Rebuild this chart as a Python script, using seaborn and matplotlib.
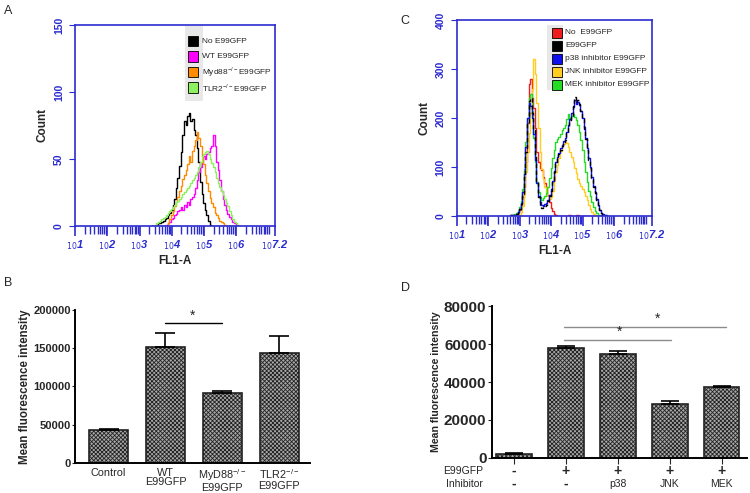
import numpy as np
import pandas as pd
import seaborn as sns
import matplotlib.pyplot as plt
from matplotlib.patches import Rectangle
from matplotlib.ticker import FixedLocator, NullFormatter

# ---- panel A : histogram counts on log10(FL1-A) bins ----
binsA = np.round(np.arange(3.40, 6.101, 0.05), 2)
noE99 = [0, 0, 0, 1, 2, 2, 3, 4, 5, 6, 8, 10, 12, 16, 20, 28, 36, 45, 55, 68,
         78, 75, 82, 84, 78, 80, 72, 68, 58, 48, 33, 24, 17, 12, 8, 4, 1, 0,
         0, 0, 0, 0, 0, 0, 0, 0, 0, 0, 0, 0, 0, 0, 0, 0, 0]
wtE99 = [0, 0, 0, 0, 0, 0, 0, 0, 0,
         1, 2, 3, 5, 6, 8, 9, 11, 12, 14, 12, 16, 14, 18, 16, 20, 22, 24, 28, 34,
         40, 44, 48, 52, 50, 54, 55, 58, 60, 68, 60, 48, 42, 34, 26, 20, 16, 12, 9, 7,
         5, 3, 2, 1, 0, 0]
myd88E99 = [0, 0, 0, 0, 0, 0, 0, 0, 0, 0,
            2, 5, 8, 11, 15, 18, 22, 26, 30, 35, 38, 42, 46, 52, 48, 56, 60, 64, 70,
            66, 60, 52, 46, 38, 32, 26, 21, 17, 14, 10, 8, 6, 4, 3, 2, 1, 0,
            0, 0, 0, 0, 0, 0, 0, 0]
tlr2E99 = [0, 0, 1, 2, 3, 4, 5, 6, 7, 8, 10, 11, 13, 14, 16, 18, 19, 20, 22, 24,
           25, 27, 28, 30, 32, 34, 36, 38, 40, 44, 48, 52, 54, 55, 56, 54, 50, 47,
           44, 40, 36, 32, 29, 26, 23, 20, 17, 15, 11, 8, 5, 3, 2, 1, 0]
labelsA = ['No E99GFP', 'WT E99GFP', r'Myd88$^{\mathregular{-/-}}$E99GFP',
           r'TLR2$^{\mathregular{-/-}}$E99GFP']
colorsA = ['black', '#ff00ff', '#ff8c00', '#8cf060']

# ---- panel C ----
binsC = np.round(np.arange(2.70, 5.801, 0.05), 2)
redNo = [0, 0, 0, 1, 3, 6, 12, 22, 38, 60, 110, 190, 270, 280, 240, 220, 180, 130,
         110, 98, 94, 80, 68, 60, 42, 28, 16, 10, 5, 2,
         0, 0, 0, 0, 0, 0, 0, 3, 2, 0, 0, 0, 3, 2, 0, 0, 0, 0, 0, 0, 0, 0, 0, 0,
         0, 0, 0, 0, 0, 0, 0, 0, 0]
blackE99 = [1, 1, 2, 3, 5, 8, 14, 24, 45, 80, 130, 190, 235, 240, 210, 175, 120, 70,
            38, 22, 16, 18, 20, 22, 30, 40, 52, 70, 90, 108, 118, 126, 135, 142, 150,
            156, 170, 182, 195, 205, 225, 242, 232, 236, 228, 215, 198, 178, 158, 135,
            115, 98, 78, 60, 46, 32, 20, 12, 6, 3, 1, 0, 0]
p38E99 = [1, 2, 2, 3, 5, 9, 15, 26, 48, 85, 140, 200, 230, 225, 200, 168, 115, 68,
          40, 28, 22, 20, 24, 26, 32, 42, 55, 72, 92, 110, 120, 128, 138, 145, 152,
          160, 172, 185, 198, 210, 222, 236, 228, 232, 226, 214, 200, 182, 160, 138,
          118, 100, 80, 62, 48, 34, 22, 13, 7, 4, 2, 1, 0]
jnkE99 = [0, 0, 0, 0, 0, 1, 3, 8, 20, 45, 90, 130, 170, 210, 260, 320, 290, 230,
          180, 130, 95, 75, 60, 48, 40, 34, 38, 52, 72, 90, 105, 118, 132, 140, 146,
          150, 148, 140, 130, 120, 110, 98, 88, 76, 68, 62, 55, 48, 40, 32, 22, 14,
          8, 4, 1, 0, 0, 0, 0, 0, 0, 0, 0]
mekE99 = [2, 2, 3, 4, 6, 10, 18, 30, 55, 95, 150, 200, 240, 248, 215, 160, 110, 70,
          48, 38, 33, 36, 40, 46, 60, 78, 98, 118, 135, 150, 158, 162, 168, 175, 180,
          186, 198, 208, 200, 205, 208, 202, 195, 185, 172, 155, 135, 110, 90, 70,
          52, 40, 28, 18, 11, 6, 3, 1, 0, 0, 0, 0, 0]
labelsC = ['No  E99GFP', 'E99GFP', 'p38 inhibitor E99GFP', 'JNK inhibitor E99GFP',
           'MEK inhibitor E99GFP']
colorsC = ['#ee1c1c', 'black', '#1010ee', '#ffcc22', '#22dd22']

# ---- panel B ----
groupsB = ['Control', 'WT\nE99GFP', 'MyD88$^{\\mathregular{-/-}}$\nE99GFP',
           'TLR2$^{\\mathregular{-/-}}$\nE99GFP']
mfiB = [43000, 152000, 92000, 143500]
semB = [2000, 18500, 2500, 22800]

# ---- panel D ----
groupsD = ['g1', 'g2', 'g3', 'g4', 'g5']
mfiD = [2300, 57800, 54600, 28500, 37400]
semD = [300, 900, 1700, 1500, 500]
e99row = ['-', '+', '+', '+', '+']
inhibRow = ['-', '-', 'p38', 'JNK', 'MEK']

sns.set_style("white")
plt.rcParams['font.family'] = ['Liberation Sans', 'DejaVu Sans']
plt.rcParams['hatch.linewidth'] = 0.6

blue = '#2b2bd0'
fig = plt.figure(figsize=(7.5, 4.93), dpi=100)

axA = fig.add_axes([0.1, 0.5416, 0.2667, 0.4077])
axC = fig.add_axes([0.6093, 0.5619, 0.26, 0.3976])
axB = fig.add_axes([0.1, 0.0609, 0.3133, 0.3103])
axD = fig.add_axes([0.656, 0.071, 0.34, 0.3083])


def flow_axes(ax, ymax, ystep):
    ax.set_xscale('log')
    ax.set_xlim(10 ** 1, 10 ** 7.2)
    ax.set_ylim(0, ymax)
    for s in ax.spines.values():
        s.set_color(blue)
        s.set_linewidth(1.2)
    majors = [10.0 ** k for k in range(1, 7)] + [10 ** 7.2]
    ax.xaxis.set_major_locator(FixedLocator(majors))
    minors = [m * 10.0 ** k for k in range(1, 7) for m in range(2, 10)] + [1e7]
    ax.xaxis.set_minor_locator(FixedLocator(minors))
    ax.xaxis.set_minor_formatter(NullFormatter())
    ax.set_xticklabels([r'${}_{10}$' + e for e in ['1', '2', '3', '4', '5', '6', '7.2']],
                       color=blue, fontsize=8, fontstyle='italic', fontweight='bold')
    ax.tick_params(axis='x', which='both', direction='out', color=blue, bottom=True)
    ax.tick_params(axis='x', which='major', length=7, width=1.2, pad=2)
    ax.tick_params(axis='x', which='minor', length=6, width=1.0)
    ax.set_yticks(np.arange(0, ymax + 1, ystep))
    ax.tick_params(axis='y', direction='out', length=4, color=blue, left=True,
                   labelcolor=blue, labelsize=7.5, pad=4)
    for t in ax.get_yticklabels():
        t.set_rotation(90)
        t.set_va('center')
        t.set_fontweight('bold')
    ax.set_xlabel('FL1-A', fontsize=8.5, fontweight='bold', labelpad=2)
    ax.set_ylabel('Count', fontsize=8.5, fontweight='bold', labelpad=4)


def flow_legend(ax, labels, colors, x0, y0, dy, bg):
    # gray strip behind the colour keys, like the cytometer export
    ax.add_patch(Rectangle((bg[0], bg[1]), bg[2], bg[3], transform=ax.transAxes,
                           facecolor='#e8e8e8', edgecolor='none', zorder=1))
    for i, (lab, col) in enumerate(zip(labels, colors)):
        y = y0 - i * dy
        ax.add_patch(Rectangle((x0, y - 0.026), 0.052, 0.052, transform=ax.transAxes,
                               facecolor=col, edgecolor='black', linewidth=0.6,
                               zorder=3))
        ax.text(x0 + 0.07, y, lab, transform=ax.transAxes, fontsize=6,
                va='center', ha='left', zorder=3)


# Panel A
for vals, col in zip([noE99, wtE99, myd88E99, tlr2E99], colorsA):
    sns.lineplot(x=10 ** binsA, y=vals, ax=axA, color=col, linewidth=1.0,
                 drawstyle='steps-mid')
flow_axes(axA, 150, 50)
flow_legend(axA, labelsA, colorsA, 0.565, 0.92, 0.077, (0.55, 0.62, 0.09, 0.375))

# Panel C
for vals, col, ls in [(redNo, colorsC[0], '-'), (jnkE99, colorsC[3], '-'),
                      (mekE99, colorsC[4], '-'), (p38E99, colorsC[2], '-'),
                      (blackE99, colorsC[1], (0, (3, 2)))]:
    sns.lineplot(x=10 ** binsC, y=vals, ax=axC, color=col, linewidth=1.0,
                 linestyle=ls, drawstyle='steps-mid')
flow_axes(axC, 400, 100)
flow_legend(axC, labelsC, colorsC, 0.485, 0.934, 0.066, (0.46, 0.643, 0.085, 0.33))


def bar_axes(ax):
    sns.despine(ax=ax)
    for s in ['left', 'bottom']:
        ax.spines[s].set_color('black')
        ax.spines[s].set_linewidth(1.4)


# Panel B
dfB = pd.DataFrame({'group': groupsB, 'mfi': mfiB})
sns.barplot(data=dfB, x='group', y='mfi', ax=axB, width=0.69, color='#a8a8a8',
            edgecolor='#222222', linewidth=1.2, hatch='xxxxxxxx')
axB.errorbar(range(len(mfiB)), mfiB, yerr=[np.zeros(len(semB)), semB], fmt='none',
             ecolor='black', elinewidth=1.2, capsize=7, capthick=1.2)
axB.set_xlim(-0.59, 3.54)
axB.set_ylim(0, 200000)
axB.set_yticks([0, 50000, 100000, 150000, 200000])
bar_axes(axB)
axB.tick_params(axis='y', direction='out', length=2, left=True, labelsize=8, pad=1)
axB.tick_params(axis='x', length=0, labelbottom=False)
for t in axB.get_yticklabels():
    t.set_fontweight('bold')
trB = axB.get_xaxis_transform()
for i, g in enumerate(groupsB):
    axB.text(i, -0.03, g, transform=trB, ha='center', va='top', fontsize=7.8,
             linespacing=0.95)
axB.set_xlabel('')
axB.set_ylabel('Mean fluorescence intensity', fontsize=8.3, fontweight='bold', labelpad=2)
axB.plot([0.99, 1.99], [182600, 182600], color='black', linewidth=1)
axB.text(1.48, 183500, '*', ha='center', va='bottom', fontsize=10)

# Panel D
dfD = pd.DataFrame({'group': groupsD, 'mfi': mfiD})
sns.barplot(data=dfD, x='group', y='mfi', ax=axD, width=0.69, color='#a8a8a8',
            edgecolor='#222222', linewidth=1.2, hatch='xxxxxxxx')
axD.errorbar(range(len(mfiD)), mfiD, yerr=[np.zeros(len(semD)), semD], fmt='none',
             ecolor='black', elinewidth=1.2, capsize=6.5, capthick=1.2)
axD.set_xlim(-0.42, 4.49)
axD.set_ylim(0, 80000)
axD.set_yticks([0, 20000, 40000, 60000, 80000])
bar_axes(axD)
axD.tick_params(axis='y', direction='out', length=3, left=True, labelsize=11, pad=1)
axD.tick_params(axis='x', direction='out', length=4, bottom=True, labelbottom=False)
for t in axD.get_yticklabels():
    t.set_fontweight('bold')
axD.set_xlabel('')
axD.set_ylabel('Mean fluorescence intensity', fontsize=7.6, fontweight='bold', labelpad=2)
tr = axD.get_xaxis_transform()
axD.text(-0.59, -0.086, 'E99GFP', transform=tr, ha='right', va='center', fontsize=7.5)
axD.text(-0.59, -0.171, 'Inhibitor', transform=tr, ha='right', va='center', fontsize=7.5)
for i, (a, b) in enumerate(zip(e99row, inhibRow)):
    axD.text(i, -0.086, a, transform=tr, ha='center', va='center', fontsize=10,
             fontweight='bold')
    bold = b == '-'
    axD.text(i, -0.171, b, transform=tr, ha='center', va='center',
             fontsize=10 if bold else 7.5, fontweight='bold' if bold else 'normal')
axD.plot([0.97, 4.08], [69100, 69100], color='#8c8c8c', linewidth=1)
axD.plot([0.97, 3.03], [62100, 62100], color='#8c8c8c', linewidth=1)
axD.text(2.77, 69600, '*', ha='center', va='bottom', fontsize=10)
axD.text(2.04, 62600, '*', ha='center', va='bottom', fontsize=10)

# Panel letters
for lab, x, y in [('A', 0.005, 0.978), ('C', 0.534, 0.958), ('B', 0.005, 0.426),
                  ('D', 0.534, 0.416)]:
    fig.text(x, y, lab, fontsize=9, ha='left', va='center')

fig.savefig('out.png', dpi=100)
